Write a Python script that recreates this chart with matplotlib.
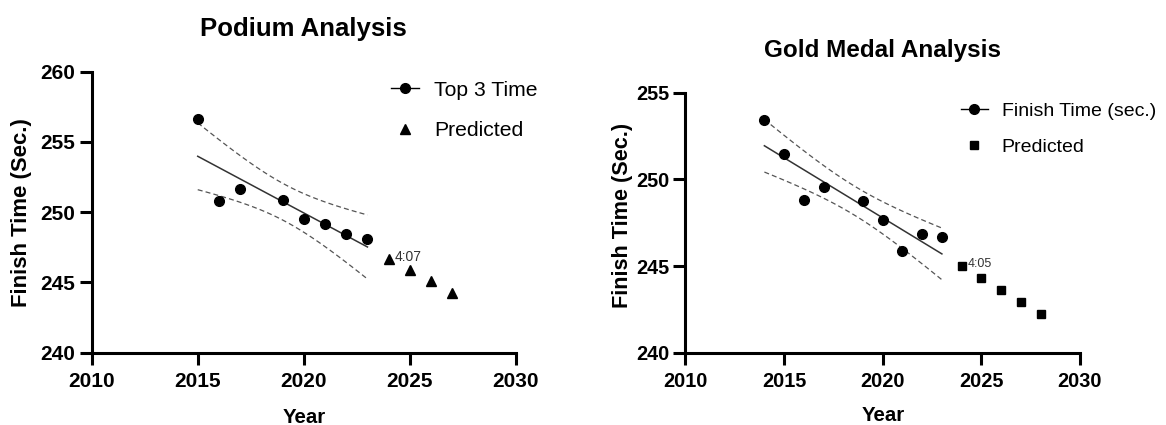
import numpy as np
import matplotlib
matplotlib.use("Agg")
import matplotlib.pyplot as plt
from matplotlib.lines import Line2D

plt.rcParams['font.family'] = ['Liberation Sans', 'DejaVu Sans']

# Podium (top 3) data
podium_years = [2015, 2016, 2017, 2019, 2020, 2021, 2022, 2023]
podium_times = [256.65, 250.82, 251.65, 250.89, 249.54, 249.13, 248.45, 248.09]
podium_pred_years = [2024, 2025, 2026, 2027]
podium_pred_times = [246.69, 245.86, 245.08, 244.25]

# Gold medal data
gold_years = [2014, 2015, 2016, 2017, 2019, 2020, 2021, 2022, 2023]
gold_times = [253.41, 251.48, 248.83, 249.56, 248.76, 247.64, 245.88, 246.82, 246.65]
gold_pred_years = [2024, 2025, 2026, 2027, 2028]
gold_pred_times = [245.0, 244.33, 243.64, 242.95, 242.24]

x_ticks = [2010, 2015, 2020, 2025, 2030]

# two-sided 95% t values by degrees of freedom
T95 = {6: 2.447, 7: 2.365}


def fit_with_band(xs, ys):
    x = np.asarray(xs, float)
    y = np.asarray(ys, float)
    n = len(x)
    slope, icpt = np.polyfit(x, y, 1)
    resid = y - (slope * x + icpt)
    s = np.sqrt(np.sum(resid ** 2) / (n - 2))
    xx = np.linspace(x.min(), x.max(), 100)
    yy = slope * xx + icpt
    se = s * np.sqrt(1.0 / n + (xx - x.mean()) ** 2 / np.sum((x - x.mean()) ** 2))
    half = T95[n - 2] * se
    return xx, yy, yy - half, yy + half


def style_axes(ax, ylim, yticks, tick_fs):
    ax.set_xlim(2010, 2030)
    ax.set_ylim(*ylim)
    ax.set_xticks(x_ticks)
    ax.set_yticks(yticks)
    for side in ("top", "right"):
        ax.spines[side].set_visible(False)
    for side in ("left", "bottom"):
        ax.spines[side].set_linewidth(2.2)
    ax.tick_params(width=2.2, length=8.6, labelsize=tick_fs)
    ax.tick_params(axis="x", pad=5)
    ax.tick_params(axis="y", pad=3)
    for lab in ax.get_xticklabels() + ax.get_yticklabels():
        lab.set_fontweight("bold")


def draw_panel(ax, years, times, pred_years, pred_times, pred_marker, note, note_fs):
    xx, yy, lo, hi = fit_with_band(years, times)
    ax.plot(xx, yy, color="#333333", lw=1.1)
    ax.plot(xx, lo, color="#555555", lw=0.9, ls=(0, (4, 2.5)))
    ax.plot(xx, hi, color="#555555", lw=0.9, ls=(0, (4, 2.5)))
    ax.plot(years, times, "o", color="black", ms=7, zorder=3)
    ms = 6 if pred_marker == "s" else 6.5
    ax.plot(pred_years, pred_times, pred_marker, color="black", ms=ms, zorder=3)
    ax.annotate(note, (pred_years[0], pred_times[0]), xytext=(4.3, 1.2),
                textcoords="offset points", fontsize=note_fs, color="#333333",
                va="center", ha="left")
    return [
        Line2D([], [], color="black", lw=1.0, marker="o", ms=7),
        Line2D([], [], color="black", lw=0, marker=pred_marker, ms=ms),
    ]


fig = plt.figure(figsize=(11.66, 4.25), dpi=100)

# ---- Podium ----
ax1 = fig.add_axes([0.0786, 0.1701, 0.3639, 0.6612])
style_axes(ax1, (240, 260), [240, 245, 250, 255, 260], 15)
h = draw_panel(ax1, podium_years, podium_times, podium_pred_years,
               podium_pred_times, "^", "4:07", 10)
fig.legend(h, ["Top 3 Time", "Predicted"], loc="upper left",
           bbox_to_anchor=(0.3353, 0.8105), bbox_transform=fig.transFigure,
           frameon=False, fontsize=15.2, handlelength=1.35, handletextpad=0.71,
           labelspacing=1.03, borderpad=0, borderaxespad=0)
ax1.set_title("Podium Analysis", fontsize=18.5, fontweight="bold",
              y=1.152, pad=0, va="center")
ax1.set_xlabel("Year", fontsize=14.7, fontweight="bold", va="center")
ax1.xaxis.set_label_coords(0.5, -0.229)
ax1.set_ylabel("Finish Time (Sec.)", fontsize=15.9, fontweight="bold", va="center")
ax1.yaxis.set_label_coords(-0.165, 0.5)

# ---- Gold medal ----
ax2 = fig.add_axes([0.5879, 0.1701, 0.3383, 0.6118])
style_axes(ax2, (240, 255), [240, 245, 250, 255], 14.3)
h = draw_panel(ax2, gold_years, gold_times, gold_pred_years,
               gold_pred_times, "s", "4:05", 9)
fig.legend(h, ["Finish Time (sec.)", "Predicted"], loc="upper left",
           bbox_to_anchor=(0.8242, 0.7588), bbox_transform=fig.transFigure,
           frameon=False, fontsize=14, handlelength=1.37, handletextpad=0.73,
           labelspacing=0.95, borderpad=0, borderaxespad=0)
ax2.set_title("Gold Medal Analysis", fontsize=17.5, fontweight="bold",
              y=1.164, pad=0, va="center")
ax2.set_xlabel("Year", fontsize=14.7, fontweight="bold", va="center")
ax2.xaxis.set_label_coords(0.5, -0.241)
ax2.set_ylabel("Finish Time (Sec.)", fontsize=15.6, fontweight="bold", va="center")
ax2.yaxis.set_label_coords(-0.16, 0.527)

fig.savefig("out.png", dpi=100)
